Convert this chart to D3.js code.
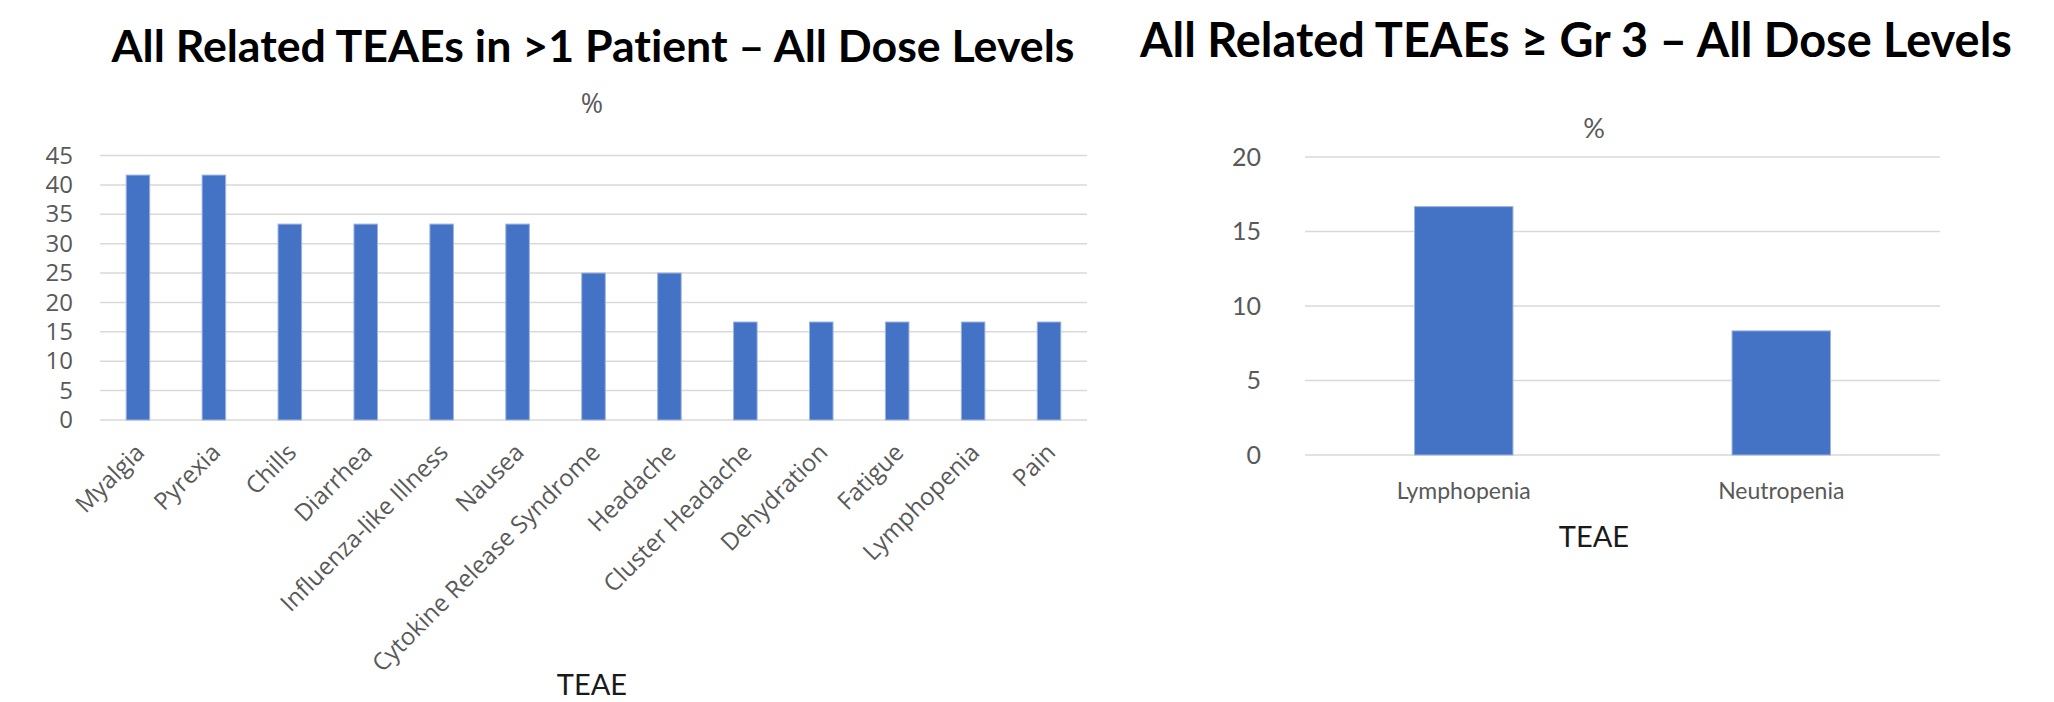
<!DOCTYPE html>
<html>
<head>
<meta charset="utf-8">
<script src="https://cdn.jsdelivr.net/npm/d3@7"></script>
<style>
  html, body { margin: 0; padding: 0; background: #fff; }
  svg { display: block; }
  text { font-variant-ligatures: none; font-feature-settings: "liga" 0; }
</style>
</head>
<body>
<svg id="chart" width="2054" height="702"></svg>
<script>
  // ---------- data ----------
  const leftTitle = "All Related TEAEs in >1 Patient – All Dose Levels";
  const leftCategories = ["Myalgia", "Pyrexia", "Chills", "Diarrhea", "Influenza-like Illness", "Nausea",
    "Cytokine Release Syndrome", "Headache", "Cluster Headache", "Dehydration", "Fatigue", "Lymphopenia", "Pain"];
  const leftValues = [41.67, 41.67, 33.33, 33.33, 33.33, 33.33, 25, 25, 16.67, 16.67, 16.67, 16.67, 16.67];
  const leftTicks = [0, 5, 10, 15, 20, 25, 30, 35, 40, 45];

  const rightTitle = "All Related TEAEs ≥ Gr 3 – All Dose Levels";
  const rightCategories = ["Lymphopenia", "Neutropenia"];
  const rightValues = [16.67, 8.33];
  const rightTicks = [0, 5, 10, 15, 20];

  const svg = d3.select("#chart");
  const BAR = "#4472C4";
  const GRID = "#d9d9d9";
  const GREY = "#595959";

  // fit a title to a measured width
  function fitText(sel, target) {
    const w = sel.node().getComputedTextLength();
    const fs = parseFloat(sel.attr("font-size"));
    sel.attr("font-size", fs * target / w);
  }

  function drawChart(o) {
    const g = svg.append("g");

    const x = d3.scaleBand().domain(o.categories).range([o.x0, o.x1])
      .paddingInner(0.69).paddingOuter(0.345);
    const y = d3.scaleLinear().domain([0, d3.max(o.ticks)]).range([o.y0, o.y1]);

    // title
    const t = g.append("text")
      .attr("x", o.titleX).attr("y", o.titleY)
      .attr("text-anchor", "middle")
      .attr("font-family", "Lato, 'Open Sans', sans-serif")
      .attr("font-weight", 700).attr("font-size", 44)
      .attr("fill", "#000")
      .text(o.title);
    fitText(t, o.titleW);

    // "%" label
    g.append("text")
      .attr("x", o.pctX).attr("y", o.pctY)
      .attr("text-anchor", "middle").attr("dominant-baseline", "central")
      .attr("font-family", o.tickFont).attr("font-size", 27)
      .attr("fill", GREY).text("%");

    // gridlines
    g.append("g").selectAll("line").data(o.ticks).join("line")
      .attr("x1", o.x0).attr("x2", o.x1)
      .attr("y1", d => y(d)).attr("y2", d => y(d))
      .attr("stroke", GRID).attr("stroke-width", 1.5);

    // y axis labels
    const yAxis = d3.axisLeft(y).tickValues(o.ticks).tickSize(0).tickPadding(o.tickPad);
    const ya = g.append("g").attr("transform", `translate(${o.x0},0)`).call(yAxis);
    ya.select(".domain").remove();
    ya.selectAll("text")
      .attr("font-family", o.tickFont).attr("font-size", o.tickSize)
      .attr("fill", GREY);

    // bars
    g.append("g").selectAll("rect").data(o.values).join("rect")
      .attr("x", (d, i) => x(o.categories[i]))
      .attr("width", x.bandwidth())
      .attr("y", d => y(d))
      .attr("height", d => y(0) - y(d))
      .attr("fill", BAR)
      .attr("stroke", "#9db3e0").attr("stroke-width", 1);

    // category labels
    const cx = d => x(d) + x.bandwidth() / 2;
    const lbl = g.append("g").selectAll("text").data(o.categories).join("text")
      .attr("font-family", o.tickFont).attr("font-size", o.catSize)
      .attr("fill", GREY)
      .text(d => d);
    if (o.rotate) {
      lbl.attr("text-anchor", "end").attr("dy", "0.35em")
        .attr("transform", d => `translate(${cx(d) + 2},${y(0) + 28}) rotate(-45)`);
    } else {
      lbl.attr("text-anchor", "middle")
        .attr("x", cx).attr("y", y(0) + o.catGap);
    }

    // x axis title
    g.append("text")
      .attr("x", o.axX).attr("y", o.axY)
      .attr("text-anchor", "middle")
      .attr("font-family", "Lato, sans-serif").attr("font-size", o.axSize)
      .attr("fill", "#1a1a1a").text("TEAE");
  }

  drawChart({
    title: leftTitle, categories: leftCategories, values: leftValues, ticks: leftTicks,
    x0: 100, x1: 1087, y0: 420, y1: 155.5,
    titleX: 593, titleY: 62, titleW: 963,
    pctX: 592, pctY: 102,
    tickFont: "'Open Sans', sans-serif", tickSize: 24, tickPad: 27,
    catSize: 24, rotate: true,
    axX: 592, axY: 695, axSize: 29
  });

  drawChart({
    title: rightTitle, categories: rightCategories, values: rightValues, ticks: rightTicks,
    x0: 1305, x1: 1940, y0: 455, y1: 157,
    titleX: 1576, titleY: 57, titleW: 872,
    pctX: 1594, pctY: 127,
    tickFont: "Lato, sans-serif", tickSize: 25, tickPad: 44,
    catSize: 23, rotate: false, catGap: 44,
    axX: 1594, axY: 547, axSize: 29
  });
</script>
</body>
</html>
